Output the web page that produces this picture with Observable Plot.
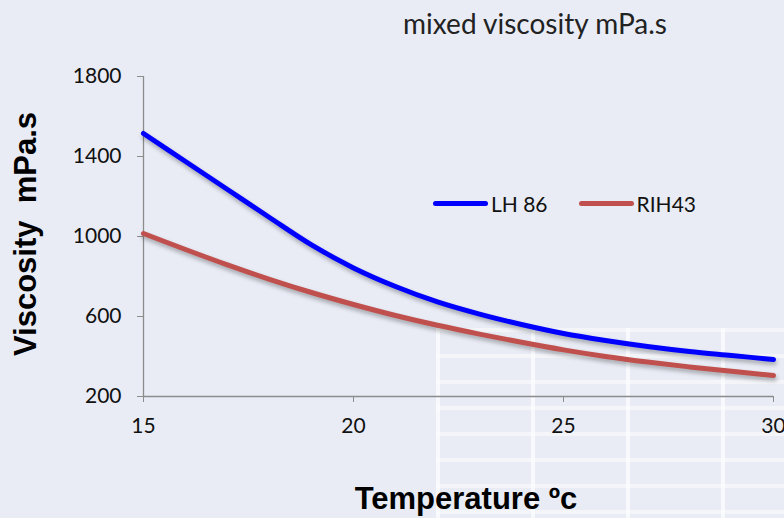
<!DOCTYPE html>
<html>
<head>
<meta charset="utf-8">
<script src="https://cdn.jsdelivr.net/npm/d3@7"></script>
<script src="https://cdn.jsdelivr.net/npm/@observablehq/plot@0.6"></script>
<style>
  html, body { margin: 0; padding: 0; background: #e9ecf5; }
  #wrap { position: relative; width: 784px; height: 518px; overflow: hidden; background: #e9ecf5; }
  #deco { position: absolute; left: 436px; top: 328px; width: 360px; height: 200px;
    background-image:
      linear-gradient(to right, rgba(255,255,255,0.85) 4px, transparent 4px),
      linear-gradient(to bottom, rgba(255,255,255,0.6) 4px, transparent 4px);
    background-size: 95px 100%, 100% 26px; opacity: 0.8; }
  #chart { position: absolute; left: 0; top: 0; }
  .title { position: absolute; left: 535px; top: 23px; transform: translate(-50%, -50%);
    white-space: pre; font-family: Lato, "Open Sans", sans-serif; font-size: 28px; color: #222; }
  .ylab { position: absolute; left: 26px; top: 234px; transform: translate(-50%, -50%) rotate(-90deg);
    white-space: pre; font-family: "Liberation Sans", Arial, sans-serif; font-weight: bold; font-size: 31px; color: #000; }
  .xlab { position: absolute; left: 466px; top: 499px; transform: translate(-50%, -50%);
    white-space: pre; font-family: "Liberation Sans", Arial, sans-serif; font-weight: bold; font-size: 31px; color: #000; }
  .legend { position: absolute; top: 191px; left: 433px; display: flex; align-items: center;
    font-family: Lato, "Open Sans", sans-serif; font-size: 21px; color: #111; }
  .legend .sw { display: inline-block; width: 55px; height: 5px; border-radius: 3px; margin-right: 3px; }
  .legend .item { display: flex; align-items: center; margin-right: 31px; }
</style>
</head>
<body>
<div id="wrap">
  <div id="deco"></div>
  <div id="chart"></div>
  <div class="title">mixed viscosity mPa.s</div>
  <div class="ylab">Viscosity  mPa.s</div>
  <div class="xlab">Temperature ºc</div>
  <div class="legend" id="legend"></div>
</div>
<script>
const temps = [15,16,17,18,19,20,21,22,23,24,25,26,27,28,29,30];
const lh86  = [1515,1375,1235,1095,958,843,750,673,612,560,515,480,450,425,405,385];
const rih43 = [1015,935,858,786,720,660,605,556,512,471,433,400,372,348,326,305];
const seriesNames = ["LH 86", "RIH43"];
const seriesColors = ["#0000ff", "#c0504d"];
const xTicks = [15,20,25,30];
const yTicks = [200,600,1000,1400,1800];

const rows = [];
temps.forEach((t, i) => {
  rows.push({T: t, v: lh86[i], s: seriesNames[0]});
  rows.push({T: t, v: rih43[i], s: seriesNames[1]});
});

const plot = Plot.plot({
  width: 784,
  height: 518,
  marginLeft: 143,
  marginRight: 11,
  marginTop: 76,
  marginBottom: 122,
  style: { background: "transparent", fontFamily: "Lato, 'Open Sans', sans-serif", fontSize: "21px", color: "#111" },
  x: { domain: [15, 30] },
  y: { domain: [200, 1800] },
  color: { domain: seriesNames, range: seriesColors },
  marks: [
    Plot.ruleX([15], { stroke: "#8c8c8c", strokeWidth: 1.3 }),
    Plot.ruleY([200], { stroke: "#8c8c8c", strokeWidth: 1.3 }),
    Plot.axisY({ ticks: yTicks, tickSize: 6, tickPadding: 16, label: null, stroke: "#8c8c8c", tickFormat: d => String(d) }),
    Plot.axisX({ ticks: xTicks, tickSize: 6, tickPadding: 16, label: null, stroke: "#8c8c8c", tickFormat: d => String(d) }),
    Plot.line(rows, { x: "T", y: "v", z: "s", stroke: "s", strokeWidth: 5, curve: "catmull-rom" })
  ]
});
document.getElementById("chart").appendChild(plot);
plot.querySelectorAll("g[aria-label='line']").forEach(g => g.style.filter = "drop-shadow(1px 3px 2px rgba(0,0,0,0.3))");

const legend = document.getElementById("legend");
seriesNames.forEach((n, i) => {
  const it = document.createElement("div");
  it.className = "item";
  const sw = document.createElement("span");
  sw.className = "sw";
  sw.style.background = seriesColors[i];
  it.appendChild(sw);
  it.appendChild(document.createTextNode(n));
  legend.appendChild(it);
});
</script>
</body>
</html>
